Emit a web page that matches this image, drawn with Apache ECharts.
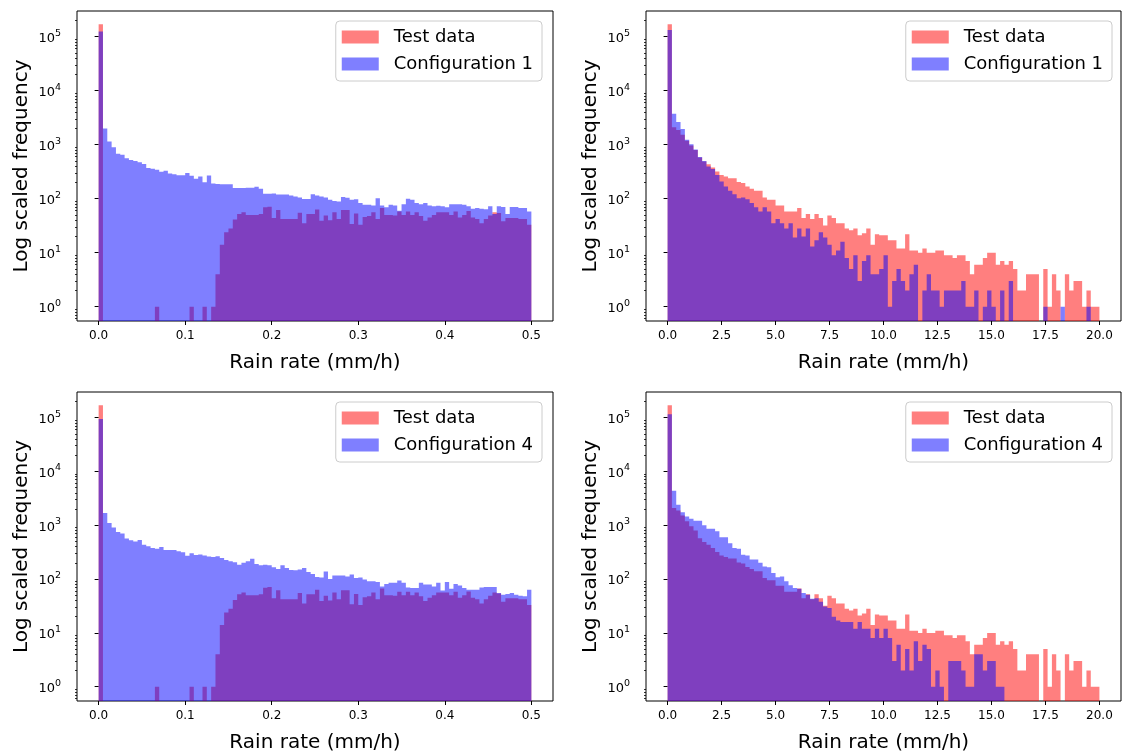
<!DOCTYPE html>
<html><head><meta charset="utf-8">
<script src="https://cdn.jsdelivr.net/npm/echarts@6/dist/echarts.min.js"></script>
<style>html,body{margin:0;padding:0;background:#fff}#c{width:1122px;height:754px}</style>
</head><body><div id="c"></div>
<script>
// ---------- data (histogram counts, 100 bins each) ----------
const binCount = 100;
const lowRange = [0, 0.5];     // mm/h, left column
const highRange = [0, 20];     // mm/h, right column

const testLow = [170000,0,0,0,0,0,0,0,0,0,0, 0,0,1,0,0,0,0,0,0,0, 1,0,0,1,0,1,4,14,24,28,
  41,52,56,50,50,50,52,69,71,44, 62,42,42,42,42,55,35,52,52,63, 39,49,40,56,42,62,62,34,53,33,
  46,48,56,42,67,50,50,49,58,50, 58,50,56,48,39,45,50,56,56,56, 50,58,45,50,59,45,42,35,42,49,
  56,54,38,44,44,44,42,42,33];
const config1Low = [124000,2000,1150,900,680,650,560,520,500,470,440,
  368,358,343,315,330,293,284,272,272,300, 265,233,256,202,268,190,187,185,185,184,
  157,157,157,160,160,166,153,123,123,125, 120,120,120,114,110,105,99,99,121,115,
  110,105,95,91,89,107,104,95,98,83, 77,77,75,102,75,69,77,75,60,79,
  100,95,83,79,83,75,72,74,72,69, 79,79,79,77,72,65,67,65,64,72,
  52,72,70,52,70,70,67,67,58];
const config4Low = [94000,1690,1100,910,745,705,565,525,500,530,436,
  405,377,366,394,347,347,347,327,314,272, 302,280,285,275,262,257,265,245,225,215,
  205,185,200,215,238,190,180,185,180,166, 154,180,161,148,145,150,161,135,124,109,
  107,138,100,117,117,117,112,121,105,107, 98,91,91,88,73,81,85,85,94,85,
  70,68,68,85,79,79,73,85,61,88, 66,81,76,68,63,63,63,70,71,71,
  71,55,51,53,55,51,49,48,63];
const testHigh = [170000,2090,1870,1520,1180,960,800,576,490,436,
  377,318,275,257,240,240,203,195,168,153, 140,140,105,95,95,75,75,58,58,58,
  67,44,52,42,52,44,32,49,44,35, 35,28,26,28,21,23,28,14,22,21,
  21,17,17,12,12,22,11,11,10,12, 10,10,11,11,9,9,8,9,9,7,
  4,6,6,8,10,10,6,7,6,7, 5,2,2,4,4,4,0,5,1,4,
  2,0,4,2,3,3,1,2,1,1];
const config1High = [133000,3720,2620,1960,1230,1020,810,590,500,395,
  356,275,208,168,140,121,102,105,98,83, 69,58,69,58,35,42,35,28,35,19,
  28,20,28,13,17,24,19,14,9,11, 16,8,5,9,3,7,9,4,4,5,
  9,1,3,5,3,2,4,6,0,2, 4,2,2,1,2,2,2,2,3,1,
  1,2,0,1,2,1,0,2,0,3, 0,0,0,0,0,0,0,1,0,0,
  0,1,0,0,0,0,0,1,0,0];
const config4High = [115000,4370,2400,1750,1450,1320,1210,1210,1000,860,
  860,770,600,600,465,377,366,283,275,230, 230,200,172,166,130,108,112,91,77,68,
  66,55,51,43,44,38,31,29,20,17, 16,16,16,12,16,12,12,8,12,8,
  12,8,3,6,2,5,2,7,3,6, 5,1,2,1,0,3,3,3,2,1,
  1,4,4,2,3,3,1,1,0,0, 0,0,0,0,0,0,0,0,0,0,
  0,0,0,0,0,0,0,0,0,0];

const xTicksLow = [0, 0.1, 0.2, 0.3, 0.4, 0.5];
const xTicksHigh = [0, 2.5, 5, 7.5, 10, 12.5, 15, 17.5, 20];
const yTicks = [1, 10, 100, 1000, 10000, 100000];
const yMinorTicks = [0.6,0.7,0.8,0.9, 2,3,4,5,6,7,8,9, 20,30,40,50,60,70,80,90,
  200,300,400,500,600,700,800,900, 2000,3000,4000,5000,6000,7000,8000,9000,
  20000,30000,40000,50000,60000,70000,80000,90000, 200000];

const panels = [
  {test: testLow,  model: config1Low,  name: 'Configuration 1', range: lowRange,  ticks: xTicksLow},
  {test: testHigh, model: config1High, name: 'Configuration 1', range: highRange, ticks: xTicksHigh},
  {test: testLow,  model: config4Low,  name: 'Configuration 4', range: lowRange,  ticks: xTicksLow},
  {test: testHigh, model: config4High, name: 'Configuration 4', range: highRange, ticks: xTicksHigh}
];

// ---------- styling ----------
const FONT = 'DejaVu Sans';
const RED = 'rgba(255,0,0,0.5)';
const BLUE = 'rgba(0,0,255,0.5)';
const yMin = 0.543, yMax = 298500;
const gridBoxes = [
  {left: 77, top: 11, width: 476, height: 310},
  {left: 646, top: 11, width: 475, height: 310},
  {left: 77, top: 392, width: 476, height: 310},
  {left: 646, top: 392, width: 475, height: 310}
];
const legendPos = [
  {right: 580, top: 21}, {right: 10, top: 21}, {right: 580, top: 402}, {right: 10, top: 402}
];

function histRender(counts, range, color) {
  return function (params, api) {
    const cs = params.coordSys;
    const bottom = cs.y + cs.height;
    const w = (range[1] - range[0]) / counts.length;
    const pts = [];
    let x0 = api.coord([range[0], 1])[0];
    pts.push([x0, bottom]);
    for (let k = 0; k < counts.length; k++) {
      const xa = api.coord([range[0] + k * w, 1])[0];
      const xb = api.coord([range[0] + (k + 1) * w, 1])[0];
      const y = counts[k] > 0 ? api.coord([range[0], counts[k]])[1] : bottom;
      pts.push([xa, y], [xb, y]);
      x0 = xb;
    }
    pts.push([x0, bottom]);
    return {type: 'polygon', shape: {points: pts}, style: {fill: color}};
  };
}

const option = {
  animation: false,
  backgroundColor: '#fff',
  textStyle: {fontFamily: FONT},
  grid: gridBoxes.map(g => Object.assign({show: true, borderColor: '#000', borderWidth: 1, backgroundColor: 'transparent'}, g)),
  legend: panels.map((p, i) => Object.assign({
    data: ['Test data', p.name],
    orient: 'vertical',
    icon: 'rect',
    itemWidth: 37, itemHeight: 13, itemGap: 9,
    padding: [7, 9, 8, 6],
    backgroundColor: 'rgba(255,255,255,0.8)',
    borderColor: '#cccccc', borderWidth: 1, borderRadius: 4,
    selectedMode: false,
    formatter: n => '{g|}' + n,
    textStyle: {fontFamily: FONT, fontSize: 18, color: '#000',
      rich: {g: {width: 10}}}
  }, legendPos[i])),
  xAxis: panels.map((p, i) => {
    const span = p.range[1] - p.range[0];
    return {
      type: 'value', gridIndex: i,
      min: p.range[0] - 0.05 * span, max: p.range[1] + 0.05 * span,
      name: 'Rain rate (mm/h)', nameLocation: 'middle', nameGap: 32,
      nameTextStyle: {fontFamily: FONT, fontSize: 20, color: '#000'},
      axisLine: {show: false},
      splitLine: {show: false},
      axisTick: {show: true, length: 4, lineStyle: {color: '#000', width: 1}, customValues: p.ticks},
      axisLabel: {show: true, customValues: p.ticks, margin: 9, fontFamily: FONT, fontSize: 12, color: '#000',
        formatter: v => Number(v).toFixed(1)}
    };
  }),
  yAxis: [],
  series: []
};

panels.forEach((p, i) => {
  option.yAxis.push({
    type: 'log', logBase: 10, gridIndex: i, min: yMin, max: yMax, position: 'left', offset: 0,
    name: 'Log scaled frequency', nameLocation: 'middle', nameGap: 45,
    nameTextStyle: {fontFamily: FONT, fontSize: 20, color: '#000'},
    axisLine: {show: false}, splitLine: {show: false}, minorTick: {show: false},
    axisTick: {show: true, length: 4, lineStyle: {color: '#000', width: 1}, customValues: yTicks},
    axisLabel: {show: true, customValues: yTicks, margin: 16, fontFamily: FONT, color: '#000',
      formatter: v => '{b|10}{s|' + Math.round(Math.log10(v)) + '}',
      rich: {b: {fontSize: 13, fontFamily: FONT, color: '#000', lineHeight: 17, verticalAlign: 'bottom'},
             s: {fontSize: 9.5, fontFamily: FONT, color: '#000', verticalAlign: 'top', lineHeight: 17}}}
  });
  option.yAxis.push({
    type: 'log', logBase: 10, gridIndex: i, min: yMin, max: yMax, position: 'left', offset: 0,
    axisLine: {show: false}, splitLine: {show: false}, axisLabel: {show: false},
    axisTick: {show: true, length: 2, lineStyle: {color: '#000', width: 0.8}, customValues: yMinorTicks}
  });
  const yi = i * 2;
  option.series.push({
    type: 'custom', name: 'Test data', xAxisIndex: i, yAxisIndex: yi,
    itemStyle: {color: RED}, data: [[p.range[0], 1]],
    renderItem: histRender(p.test, p.range, RED), silent: true
  });
  option.series.push({
    type: 'custom', name: p.name, xAxisIndex: i, yAxisIndex: yi,
    itemStyle: {color: BLUE}, data: [[p.range[0], 1]],
    renderItem: histRender(p.model, p.range, BLUE), silent: true
  });
});

const chart = echarts.init(document.getElementById('c'), null, {renderer: 'canvas'});
chart.setOption(option);
</script>
</body></html>
